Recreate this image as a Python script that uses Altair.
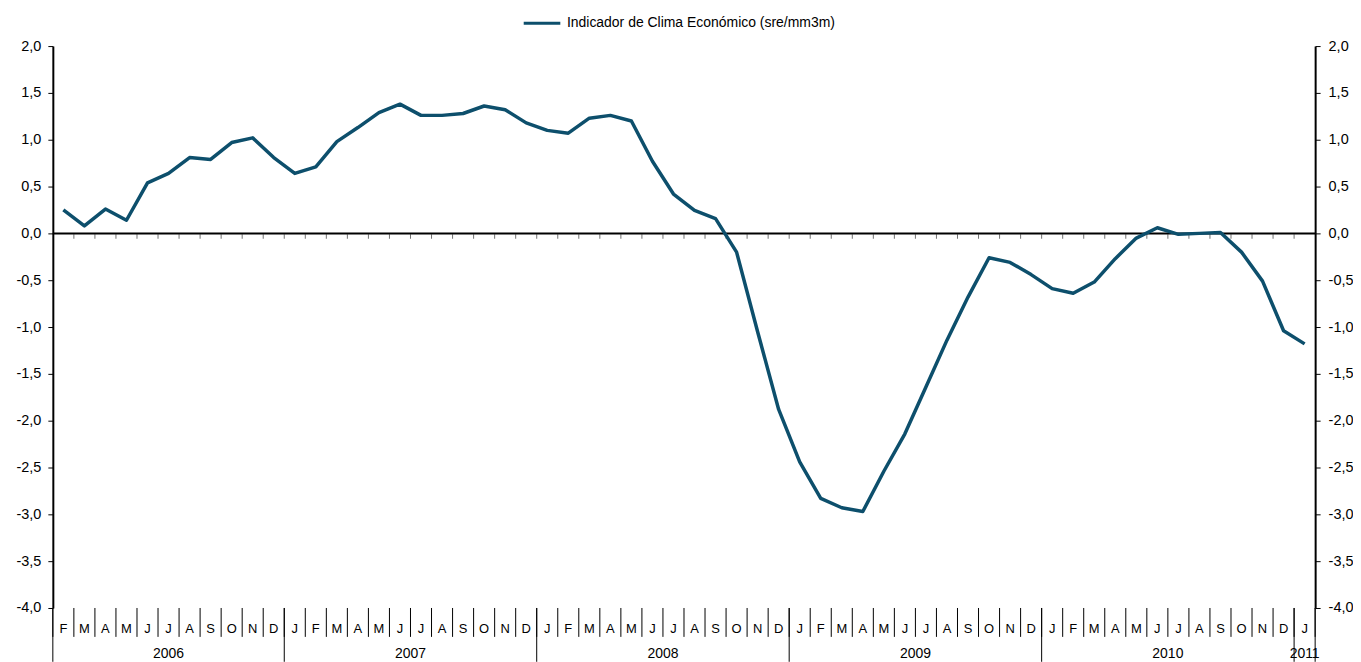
import altair as alt
import pandas as pd

# ---- data ----
series_name = "Indicador de Clima Económico (sre/mm3m)"
month_letters = (["F", "M", "A", "M", "J", "J", "A", "S", "O", "N", "D"]
                 + ["J", "F", "M", "A", "M", "J", "J", "A", "S", "O", "N", "D"] * 4
                 + ["J"])
years = ([2006] * 11 + [2007] * 12 + [2008] * 12 + [2009] * 12 + [2010] * 12 + [2011])
values = [
    0.25, 0.08, 0.26, 0.14, 0.54, 0.64, 0.81, 0.79, 0.97, 1.02, 0.81,            # 2006
    0.64, 0.71, 0.98, 1.13, 1.29, 1.38, 1.26, 1.26, 1.28, 1.36, 1.32, 1.18,      # 2007
    1.10, 1.07, 1.23, 1.26, 1.20, 0.77, 0.42, 0.245, 0.157, -0.20, -1.05, -1.88, # 2008
    -2.44, -2.83, -2.93, -2.97, -2.54, -2.14, -1.64, -1.14, -0.68, -0.26, -0.31, -0.44,  # 2009
    -0.59, -0.64, -0.52, -0.27, -0.05, 0.06, -0.01, 0.00, 0.01, -0.20, -0.51, -1.04,     # 2010
    -1.18,                                                                         # 2011
]
y_ticks = [2.0, 1.5, 1.0, 0.5, 0.0, -0.5, -1.0, -1.5, -2.0, -2.5, -3.0, -3.5, -4.0]

n = len(values)
df = pd.DataFrame({
    "idx": list(range(n)),
    "month": month_letters,
    "year": [str(y) for y in years],
    "value": values,
    "series": [series_name] * n,
})

# category boundaries (month separators) and year boundaries
bounds = pd.DataFrame({"k": list(range(n + 1))})
year_bounds = [0] + [i for i in range(1, n) if years[i] != years[i - 1]] + [n]
ybounds = pd.DataFrame({"k": year_bounds})
inner_bounds = pd.DataFrame({"k": list(range(1, n)), "z": [0] * (n - 1)})

year_names = []
year_first = []
year_last = []
for y in sorted(set(years)):
    ids = [i for i in range(n) if years[i] == y]
    year_names.append(str(y))
    year_first.append(min(ids))
    year_last.append(max(ids))
years_df = pd.DataFrame({"year": year_names, "first": year_first, "last": year_last})

# ---- layout / style ----
W = 1267
H = 564
COLOR = "#0D4F6C"
FONT = "Liberation Sans"

xscale = alt.Scale(domain=[0, n], nice=False, zero=False)
yscale = alt.Scale(domain=[-4, 2], nice=False, zero=False)

label_expr = "replace((datum.value < 0 ? '-' : '') + format(abs(datum.value), '.1f'), '.', ',')"


def yaxis(orient, pad):
    return alt.Axis(orient=orient, values=y_ticks, labelExpr=label_expr, title=None,
                    grid=False, tickSize=5, tickWidth=1, tickColor="black",
                    domainColor="black", domainWidth=2, labelPadding=pad,
                    labelFontSize=14.5, labelFont=FONT, labelColor="black")


base = alt.Chart(df).transform_calculate(xc="datum.idx + 0.5")

left_axis = base.mark_line(strokeOpacity=0).encode(
    x=alt.X("xc:Q", scale=xscale, axis=None),
    y=alt.Y("value:Q", scale=yscale, axis=yaxis("left", 7)),
)

right_axis = base.mark_line(strokeOpacity=0).encode(
    x=alt.X("xc:Q", scale=xscale, axis=None),
    y=alt.Y("value:Q", scale=yscale, axis=yaxis("right", 8)),
)

line = base.mark_line(strokeWidth=3.5, strokeJoin="round").encode(
    x=alt.X("xc:Q", scale=xscale, axis=None),
    y=alt.Y("value:Q", scale=yscale, axis=None),
    color=alt.Color("series:N", scale=alt.Scale(range=[COLOR]),
                    legend=alt.Legend(orient="none", legendX=471, legendY=-43,
                                      title=None, symbolType="stroke",
                                      symbolStrokeWidth=3, symbolSize=1350,
                                      labelFontSize=14, labelFont=FONT,
                                      labelColor="black", labelOffset=5,
                                      labelLimit=0, padding=0)),
)

zero_rule = alt.Chart(pd.DataFrame({"a": [0], "b": [n], "z": [0]})).mark_rule(
    color="black", strokeWidth=2).encode(
    x=alt.X("a:Q", scale=xscale, axis=None),
    x2="b:Q",
    y=alt.Y("z:Q", scale=yscale, axis=None),
)

zero_ticks = alt.Chart(inner_bounds).mark_tick(
    orient="vertical", size=5, thickness=1, yOffset=3, color="#333333").encode(
    x=alt.X("k:Q", scale=xscale, axis=None),
    y=alt.Y("z:Q", scale=yscale, axis=None),
)

month_sep = alt.Chart(bounds).mark_rule(color="black", strokeWidth=1).encode(
    x=alt.X("k:Q", scale=xscale, axis=None),
    y=alt.value(H),
    y2=alt.value(H + 29),
)

year_sep = alt.Chart(ybounds).mark_rule(color="black", strokeWidth=1).encode(
    x=alt.X("k:Q", scale=xscale, axis=None),
    y=alt.value(H),
    y2=alt.value(H + 54),
)

month_text = base.mark_text(fontSize=13, font=FONT, color="black",
                            align="center", baseline="middle").encode(
    x=alt.X("xc:Q", scale=xscale, axis=None),
    y=alt.value(H + 21),
    text="month:N",
)

year_text = alt.Chart(years_df).transform_calculate(
    xm="(datum.first + datum.last + 1) / 2").mark_text(
    fontSize=14, font=FONT, color="black", align="center", baseline="middle").encode(
    x=alt.X("xm:Q", scale=xscale, axis=None),
    y=alt.value(H + 46),
    text="year:N",
)

chart = alt.layer(
    left_axis, right_axis, zero_rule, zero_ticks, month_sep, year_sep,
    month_text, year_text, line
).resolve_axis(y="independent").properties(
    width=W,
    height=H,
    autosize=alt.AutoSizeParams(type="none"),
    padding={"left": 45, "top": 37, "right": 38, "bottom": 54},
).configure(background="white").configure_view(strokeWidth=0)

chart.save("out.html", embed_options={"renderer": "svg", "actions": False})
